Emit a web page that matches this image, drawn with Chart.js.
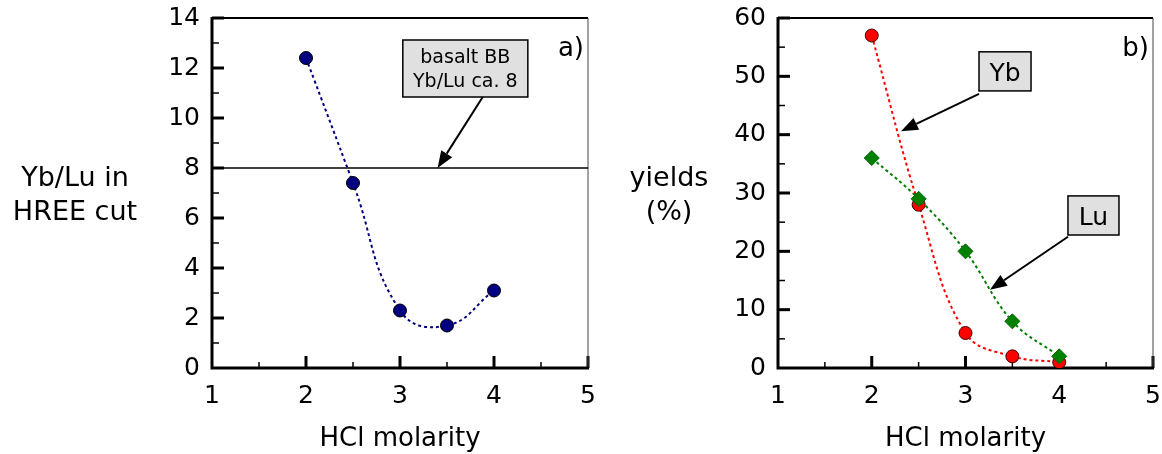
<!DOCTYPE html>
<html>
<head>
<meta charset="utf-8">
<script src="https://cdn.jsdelivr.net/npm/chart.js@4.4.0/dist/chart.umd.min.js"></script>
<style>
  body { margin: 0; background: #fff; }
  canvas { position: absolute; top: 0; }
  #chartA { left: 0; }
  #chartB { left: 600px; }
</style>
</head>
<body>
<canvas id="chartA" width="600" height="454"></canvas>
<canvas id="chartB" width="562" height="454"></canvas>
<script>
// Data
const molarity = [2, 2.5, 3, 3.5, 4];
const ybLuRatio = [12.4, 7.4, 2.3, 1.7, 3.1];
const basaltX = [1, 5];
const basaltRatio = [8, 8];
const ybYield = [57, 28, 6, 2, 1];
const luYield = [36, 29, 20, 8, 2];

const xTicks = [1, 2, 3, 4, 5];
const ratioTicks = [0, 2, 4, 6, 8, 10, 12, 14];
const yieldTicks = [0, 10, 20, 30, 40, 50, 60];

Chart.defaults.font.family = 'DejaVu Sans';
Chart.defaults.color = '#000';

const toPoints = (xs, ys) => xs.map((x, i) => ({ x: x, y: ys[i] }));

// inward ticks + box frame
const frameTicks = {
    id: 'frameTicks',
    beforeDatasetsDraw(chart, args, opts) {
        const { ctx, chartArea: a, scales: { x, y } } = chart;
        ctx.save();
        ctx.strokeStyle = '#000';
        ctx.lineCap = 'butt';
        // x ticks
        for (let v = x.min + opts.xMinor; v <= x.max + 1e-9; v += opts.xMinor) {
            const px = x.getPixelForValue(v);
            const major = Math.abs(v / opts.xMajor - Math.round(v / opts.xMajor)) < 1e-6;
            ctx.lineWidth = major ? 3 : 1.5;
            ctx.beginPath();
            ctx.moveTo(px, a.bottom);
            ctx.lineTo(px, a.bottom - (major ? 12 : 6));
            ctx.stroke();
        }
        // y ticks
        for (let v = y.min + opts.yMinor; v <= y.max + 1e-9; v += opts.yMinor) {
            const py = y.getPixelForValue(v);
            const major = Math.abs(v / opts.yMajor - Math.round(v / opts.yMajor)) < 1e-6;
            ctx.lineWidth = major ? 3 : 1.5;
            ctx.beginPath();
            ctx.moveTo(a.left, py);
            ctx.lineTo(a.left + (major ? 12 : 7), py);
            ctx.stroke();
        }
        // frame
        ctx.lineWidth = 2;
        ctx.beginPath();
        ctx.moveTo(a.left, a.top);
        ctx.lineTo(a.right, a.top);
        ctx.stroke();
        ctx.strokeStyle = '#444';
        ctx.lineWidth = 1;
        ctx.beginPath();
        ctx.moveTo(a.right, a.top);
        ctx.lineTo(a.right, a.bottom);
        ctx.stroke();
        ctx.strokeStyle = '#000';
        ctx.lineWidth = 3;
        ctx.beginPath();
        ctx.moveTo(a.left, a.top - 1);
        ctx.lineTo(a.left, a.bottom);
        ctx.lineTo(a.right + 1, a.bottom);
        ctx.stroke();
        ctx.restore();
    }
};

// titles, boxes, arrows, panel letter
const annotations = {
    id: 'annotations',
    afterDraw(chart, args, opts) {
        const { ctx, chartArea: a, scales: { x, y } } = chart;
        ctx.save();
        ctx.fillStyle = '#000';
        ctx.textAlign = 'center';
        ctx.textBaseline = 'alphabetic';

        // horizontal y title
        ctx.font = '27px "DejaVu Sans"';
        opts.yTitle.forEach((t, i) => {
            ctx.fillText(t, opts.yTitleX, opts.yTitleY + i * 34);
        });
        // x title
        ctx.font = '26px "DejaVu Sans"';
        ctx.fillText('HCl molarity', (a.left + a.right) / 2, 446);

        // panel letter
        ctx.textAlign = 'right';
        ctx.fillText(opts.letter, a.right - 4, a.top + 38);

        // boxes
        opts.boxes.forEach(b => {
            const x0 = x.getPixelForValue(b.x0), x1 = x.getPixelForValue(b.x1);
            const y0 = y.getPixelForValue(b.y0), y1 = y.getPixelForValue(b.y1);
            ctx.fillStyle = '#e0e0e0';
            ctx.fillRect(x0, y0, x1 - x0, y1 - y0);
            ctx.strokeStyle = '#000';
            ctx.lineWidth = 1.5;
            ctx.strokeRect(x0, y0, x1 - x0, y1 - y0);
            ctx.fillStyle = '#000';
            ctx.textAlign = 'center';
            ctx.font = b.font;
            const cx = (x0 + x1) / 2;
            b.lines.forEach((t, i) => {
                ctx.fillText(t, cx, y0 + b.base + i * b.step);
            });
        });

        // arrows
        opts.arrows.forEach(ar => {
            const fx = x.getPixelForValue(ar.from[0]), fy = y.getPixelForValue(ar.from[1]);
            const tx = x.getPixelForValue(ar.to[0]), ty = y.getPixelForValue(ar.to[1]);
            const ang = Math.atan2(ty - fy, tx - fx);
            const hl = 17, hw = 6.5;
            const bx = tx - hl * Math.cos(ang), by = ty - hl * Math.sin(ang);
            ctx.strokeStyle = '#000';
            ctx.lineWidth = 2;
            ctx.beginPath();
            ctx.moveTo(fx, fy);
            ctx.lineTo(bx, by);
            ctx.stroke();
            ctx.beginPath();
            ctx.moveTo(tx, ty);
            ctx.lineTo(bx + hw * Math.sin(ang), by - hw * Math.cos(ang));
            ctx.lineTo(bx - hw * Math.sin(ang), by + hw * Math.cos(ang));
            ctx.closePath();
            ctx.fill();
        });
        ctx.restore();
    }
};

// let the tick labels overhang: chart area comes only from layout padding
const noScalePadding = s => {
    s.paddingTop = 0;
    s.paddingBottom = 0;
    s.paddingLeft = 0;
    s.paddingRight = 0;
};

function makeScales(yTicks, leftWidth) {
    return {
        x: {
            type: 'linear',
            min: xTicks[0],
            max: xTicks[xTicks.length - 1],
            grid: { display: false, drawTicks: false },
            border: { display: false },
            afterBuildTicks: s => { s.ticks = xTicks.map(v => ({ value: v })); },
            afterFit: s => { s.height = 86; noScalePadding(s); },
            ticks: { font: { size: 25 }, padding: 13, maxRotation: 0 }
        },
        y: {
            type: 'linear',
            min: yTicks[0],
            max: yTicks[yTicks.length - 1],
            grid: { display: false, drawTicks: false },
            border: { display: false },
            afterBuildTicks: s => { s.ticks = yTicks.map(v => ({ value: v })); },
            afterFit: s => { s.width = leftWidth; noScalePadding(s); },
            ticks: { font: { size: 25 }, padding: 12 }
        }
    };
}

// panel a)
new Chart(document.getElementById('chartA'), {
    type: 'scatter',
    data: {
        datasets: [
            {
                label: 'Yb/Lu',
                data: toPoints(molarity, ybLuRatio),
                showLine: true,
                tension: 0.45,
                borderColor: '#000080',
                borderWidth: 2,
                borderDash: [3, 3],
                pointRadius: 6.5,
                pointBackgroundColor: '#000080',
                pointBorderColor: '#000',
                pointBorderWidth: 1
            },
            {
                label: 'basalt BB',
                data: toPoints(basaltX, basaltRatio),
                showLine: true,
                borderColor: '#000',
                borderWidth: 1.5,
                pointRadius: 0
            }
        ]
    },
    options: {
        responsive: false,
        maintainAspectRatio: false,
        animation: false,
        layout: { padding: { top: 18, right: 12, left: 0, bottom: 0 } },
        scales: makeScales(ratioTicks, 212),
        plugins: {
            legend: { display: false },
            tooltip: { enabled: false },
            frameTicks: { xMajor: 1, xMinor: 0.5, yMajor: 2, yMinor: 1 },
            annotations: {
                yTitle: ['Yb/Lu in', 'HREE cut'],
                yTitleX: 75,
                yTitleY: 186,
                letter: 'a)',
                boxes: [
                    { x0: 3.03, x1: 4.36, y0: 13.12, y1: 10.84, lines: ['basalt BB', 'Yb/Lu ca. 8'],
                      font: '19px "DejaVu Sans"', base: 23, step: 24 }
                ],
                arrows: [{ from: [3.88, 10.84], to: [3.40, 8] }]
            }
        }
    },
    plugins: [frameTicks, annotations]
});

// panel b)
new Chart(document.getElementById('chartB'), {
    type: 'scatter',
    data: {
        datasets: [
            {
                label: 'Lu',
                data: toPoints(molarity, luYield),
                showLine: true,
                tension: 0.4,
                borderColor: '#008000',
                borderWidth: 2,
                borderDash: [3, 3],
                pointStyle: 'rectRot',
                pointRadius: 7.5,
                pointBackgroundColor: '#008000',
                pointBorderColor: '#006400',
                pointBorderWidth: 1
            },
            {
                label: 'Yb',
                data: toPoints(molarity, ybYield),
                showLine: true,
                tension: 0.4,
                borderColor: '#ff0000',
                borderWidth: 2,
                borderDash: [3, 3],
                pointRadius: 6.5,
                pointBackgroundColor: '#ff0000',
                pointBorderColor: '#400000',
                pointBorderWidth: 1
            }
        ]
    },
    options: {
        responsive: false,
        maintainAspectRatio: false,
        animation: false,
        layout: { padding: { top: 18, right: 9, left: 0, bottom: 0 } },
        scales: makeScales(yieldTicks, 178),
        plugins: {
            legend: { display: false },
            tooltip: { enabled: false },
            frameTicks: { xMajor: 1, xMinor: 0.5, yMajor: 10, yMinor: 5 },
            annotations: {
                yTitle: ['yields', '(%)'],
                yTitleX: 69,
                yTitleY: 186,
                letter: 'b)',
                boxes: [
                    { x0: 3.144, x1: 3.699, y0: 54.2, y1: 47.5, lines: ['Yb'],
                      font: '25px "DejaVu Sans"', base: 29, step: 0 },
                    { x0: 4.093, x1: 4.637, y0: 29.5, y1: 22.8, lines: ['Lu'],
                      font: '25px "DejaVu Sans"', base: 29, step: 0 }
                ],
                arrows: [
                    { from: [3.144, 47.0], to: [2.312, 40.6] },
                    { from: [4.093, 22.5], to: [3.261, 13.4] }
                ]
            }
        }
    },
    plugins: [frameTicks, annotations]
});
</script>
</body>
</html>
